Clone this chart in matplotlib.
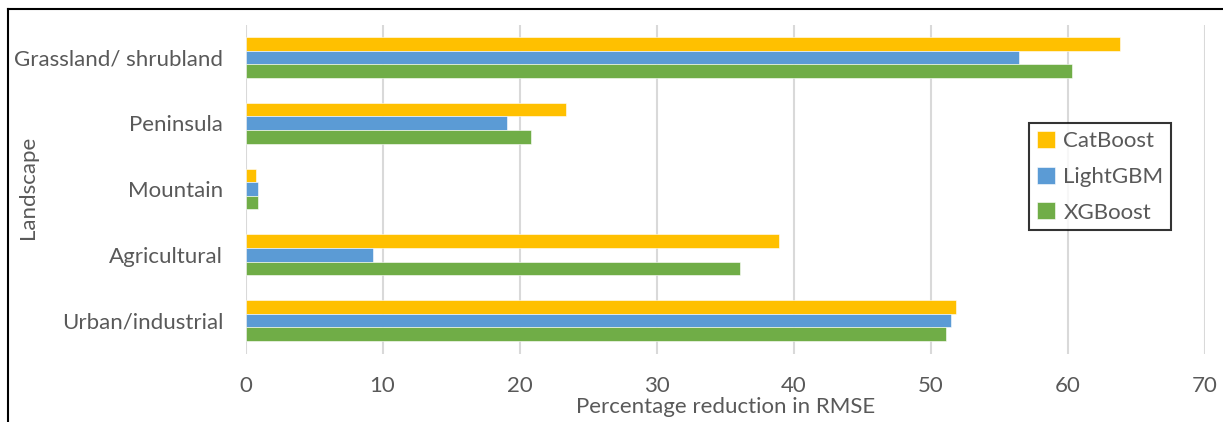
import matplotlib
matplotlib.use("Agg")
import matplotlib.pyplot as plt
from matplotlib.lines import Line2D
import numpy as np

# Landscapes listed bottom to top
landscapes = ["Urban/industrial", "Agricultural", "Mountain", "Peninsula", "Grassland/ shrubland"]
catboost = [51.8, 38.9, 0.8, 23.4, 63.8]
lightgbm = [51.5, 9.3, 0.9, 19.1, 56.4]
xgboost = [51.1, 36.1, 0.9, 20.8, 60.3]
x_ticks = [0, 10, 20, 30, 40, 50, 60, 70]

series = [("CatBoost", catboost, "#FFC000"),
          ("LightGBM", lightgbm, "#5B9BD5"),
          ("XGBoost", xgboost, "#70AD47")]

text_color = "#595959"
fs = 16
plt.rcParams["font.family"] = ["Lato", "DejaVu Sans"]

W, H = 1223, 422
fig = plt.figure(figsize=(W / 100, H / 100), dpi=100)
ax = fig.add_axes([245.5 / W, 1 - 353.5 / H, (1205 - 245.5) / W, (353.5 - 24.5) / H])

y = np.arange(len(landscapes))
bar_h = 0.207
offsets = [bar_h, 0.0, -bar_h]
for (name, vals, col), off in zip(series, offsets):
    ax.barh(y + off, vals, height=bar_h, color=col, edgecolor="white",
            linewidth=0.4, label=name, zorder=3)

ax.set_xlim(0, 70)
ax.set_ylim(-0.5, len(landscapes) - 0.5)
ax.set_xticks(x_ticks)
ax.set_xticklabels([str(t) for t in x_ticks])
ax.set_yticks(y)
ax.set_yticklabels(landscapes)
ax.tick_params(axis="both", length=0, labelsize=fs, labelcolor=text_color)
ax.tick_params(axis="y", pad=16)
ax.tick_params(axis="x", pad=16)
ax.xaxis.grid(True, color="#D9D9D9", linewidth=1.5, zorder=0)
ax.set_axisbelow(True)
for s in ax.spines.values():
    s.set_visible(False)

ax.set_xlabel("Percentage reduction in RMSE", fontsize=fs, color=text_color, labelpad=1)
fig.text(28 / W, 1 - 187 / H, "Landscape", rotation=90, fontsize=fs,
         color=text_color, ha="center", va="center")

leg = ax.legend(loc="upper left", bbox_to_anchor=((1029 - 245.5) / (1205 - 245.5),
                                                  (353.5 - 123) / (353.5 - 24.5)),
                borderaxespad=0, fontsize=fs, frameon=True, fancybox=False,
                handlelength=0.8, handleheight=0.8, handletextpad=0.4,
                labelspacing=0.7, borderpad=0.35, labelcolor=text_color)
leg.get_frame().set_edgecolor("black")
leg.get_frame().set_linewidth(1.5)

# outer frame around the chart area
fig.add_artist(Line2D([8 / W, 8 / W], [0, 1 - 9 / H], color="black", linewidth=1.5))
fig.add_artist(Line2D([8 / W, 1], [1 - 9 / H, 1 - 9 / H], color="black", linewidth=1.5))

fig.savefig("out.png", dpi=100)
